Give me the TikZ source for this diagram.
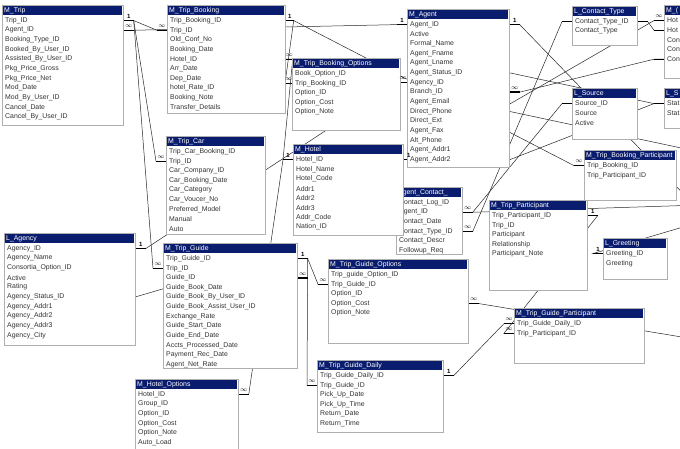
\documentclass[tikz,border=0pt]{standalone}
\usepackage{fontspec}
\setmainfont{Liberation Sans}
\usetikzlibrary{calc}
\pgfdeclarelayer{links}
\pgfsetlayers{links,main}
\definecolor{hdr}{RGB}{10,28,110}
\definecolor{rim}{RGB}{175,175,175}

\newcommand\tbl[7]{%
  \pgfmathsetmacro\hw{#4-2}
  \node[tblbox,minimum width=#4pt,minimum height=#5pt] (#1) at (#2,#3) {};
  \node[tblhead,minimum width=\hw pt] (#1-h) at ($(#1.north west)+(1,1)$) {};
  \node[tbltitle] (#1-t) at ($(#1-h.west)+(1,0)$) {#6};
  \foreach \r [count=\i] in {#7}
    \node[tblrow] (#1-\i) at ($(#1-h.south west)+(2,5.2+9.65*\i-9.65)$) {\r};
}
\newcounter{lk}
\newcommand\link[6]{%
  \stepcounter{lk}
  \begin{pgfonlayer}{links}
    \draw[lnk] #1 -- ++(#2,0) coordinate (l\thelk a) -- ($#3+(#4,0)$) coordinate (l\thelk b) -- #3;
    \draw[stub] #1 -- (l\thelk a) #3 -- (l\thelk b);
  \end{pgfonlayer}
  \node[mk] (l\thelk s) at ($#1!.5!(l\thelk a)+(0,-4)$) {#5};
  \node[mk] (l\thelk e) at ($#3!.5!(l\thelk b)+(0,-4)$) {#6};
}
% one end only, the other runs off or hides behind a table
\newcommand\loose[4]{%
  \stepcounter{lk}
  \begin{pgfonlayer}{links}
    \draw[lnk] #1 -- ++(#2,0) coordinate (l\thelk a) -- #3;
    \draw[stub] #1 -- (l\thelk a);
  \end{pgfonlayer}
  \node[mk] (l\thelk s) at ($#1!.5!(l\thelk a)+(0,-4)$) {#4};
}

\begin{document}
\begin{tikzpicture}[
  x=1pt,y=-1pt,
  tblbox/.style={draw=rim,fill=white,line width=.7pt,anchor=north west,inner sep=0pt},
  tblhead/.style={fill=hdr,anchor=north west,minimum height=9pt,inner sep=0pt},
  tbltitle/.style={text=white,anchor=west,inner sep=0pt,font=\fontsize{6.9}{8}\selectfont},
  tblrow/.style={anchor=west,inner sep=0pt,text=black!80,font=\fontsize{6.9}{8}\selectfont},
  lnk/.style={draw=black!85,line width=.5pt},
  stub/.style={draw=black,line width=1.4pt},
  mk/.style={inner sep=0pt,font=\bfseries\fontsize{6}{7}\selectfont}
]
\useasboundingbox (0,0) rectangle (680,448);
\clip (0,0) rectangle (680,448);

\tbl{trip}{2}{5}{121}{120}{M\_Trip}{Trip\_ID,Agent\_ID,Booking\_Type\_ID,Booked\_By\_User\_ID,Assisted\_By\_User\_ID,Pkg\_Price\_Gross,Pkg\_Price\_Net,Mod\_Date,Mod\_By\_User\_ID,Cancel\_Date,Cancel\_By\_User\_ID}
\tbl{bkg}{167}{5}{118}{108}{M\_Trip\_Booking}{Trip\_Booking\_ID,Trip\_ID,Old\_Conf\_No,Booking\_Date,Hotel\_ID,Arr\_Date,Dep\_Date,hotel\_Rate\_ID,Booking\_Note,Transfer\_Details}
\tbl{bopt}{292}{58}{108}{72}{M\_Trip\_Booking\_Options}{Book\_Option\_ID,Trip\_Booking\_ID,Option\_ID,Option\_Cost,Option\_Note}
\tbl{agent}{407}{9}{102}{158}{M\_Agent}{Agent\_ID,Active,Formal\_Name,Agent\_Fname,Agent\_Lname,Agent\_Status\_ID,Agency\_ID,Branch\_ID,Agent\_Email,Direct\_Phone,Direct\_Ext,Agent\_Fax,Alt\_Phone,Agent\_Addr1,Agent\_Addr2}
\tbl{ctype}{572}{6}{65}{39}{L\_Contact\_Type}{Contact\_Type\_ID,Contact\_Type}
\tbl{hcont}{664}{5}{30}{73}{M\_(}{Hot,Hot,Con,Con,Con}
\tbl{src}{572}{88}{65}{51}{L\_Source}{Source\_ID,Source,Active}
\tbl{stat}{664}{88}{30}{40}{L\_S}{Stat,Stat}
\tbl{bpart}{584}{150}{92}{50}{M\_Trip\_Booking\_Participant}{Trip\_Booking\_ID,Trip\_Participant\_ID}
\tbl{car}{166}{136}{99}{98}{M\_Trip\_Car}{Trip\_Car\_Booking\_ID,Trip\_ID,Car\_Company\_ID,Car\_Booking\_Date,Car\_Category,Car\_Voucer\_No,Preferred\_Model,Manual,Auto}
\tbl{acont}{396}{187}{66}{67}{Agent\_Contact\_}{Contact\_Log\_ID,Agent\_ID,Contact\_Date,Contact\_Type\_ID,Contact\_Descr,Followup\_Req}
\tbl{hotel}{293}{144}{110}{91}{M\_Hotel}{Hotel\_ID,Hotel\_Name,Hotel\_Code,Addr1,Addr2,Addr3,Addr\_Code,Nation\_ID}
\tbl{agency}{4}{233}{131}{112}{L\_Agency}{Agency\_ID,Agency\_Name,Consortia\_Option\_ID,Active,Rating,Agency\_Status\_ID,Agency\_Addr1,Agency\_Addr2,Agency\_Addr3,Agency\_City}
\tbl{guide}{163}{243}{134}{125}{M\_Trip\_Guide}{Trip\_Guide\_ID,Trip\_ID,Guide\_ID,Guide\_Book\_Date,Guide\_Book\_By\_User\_ID,Guide\_Book\_Assist\_User\_ID,Exchange\_Rate,Guide\_Start\_Date,Guide\_End\_Date,Accts\_Processed\_Date,Payment\_Rec\_Date,Agent\_Net\_Rate}
\tbl{gopt}{328}{259}{140}{84}{M\_Trip\_Guide\_Options}{Trip\_guide\_Option\_ID,Trip\_Guide\_ID,Option\_ID,Option\_Cost,Option\_Note}
\tbl{tpart}{489}{200}{98}{90}{M\_Trip\_Participant}{Trip\_Participant\_ID,Trip\_ID,Participant,Relationship,Participant\_Note}
\tbl{greet}{603}{238}{64}{41}{L\_Greeting}{Greeting\_ID,Greeting}
\tbl{gpart}{514}{308}{130}{55}{M\_Trip\_Guide\_Participant}{Trip\_Guide\_Daily\_ID,Trip\_Participant\_ID}
\tbl{daily}{317}{360}{126}{72}{M\_Trip\_Guide\_Daily}{Trip\_Guide\_Daily\_ID,Trip\_Guide\_ID,Pick\_Up\_Date,Pick\_Up\_Time,Return\_Date,Return\_Time}
\tbl{hopt}{135}{379}{103}{75}{M\_Hotel\_Options}{Hotel\_ID,Group\_ID,Option\_ID,Option\_Cost,Option\_Note,Auto\_Load}

\coordinate (offA) at (700,211);
\coordinate (offB) at (700,205);
\coordinate (offC) at (700,222);
\coordinate (offD) at (700,340);
\coordinate (offE) at (700,152);
\coordinate (inGuide) at (200,278);

\link{(trip-1 -| trip.east)}{10}{(bkg-2 -| bkg.west)}{-10}{1}{$\infty$}
\link{(trip-2 -| trip.east)}{10}{(agent-1 -| agent.west)}{-10}{$\infty$}{1}
\link{(trip-1 -| trip.east)}{10}{(car-2 -| car.west)}{-10}{}{$\infty$}
\link{(trip-1 -| trip.east)}{10}{(guide-2 -| guide.west)}{-10}{}{$\infty$}
\link{(bkg-1 -| bkg.east)}{8}{(bpart-1 -| bpart.west)}{-10}{1}{$\infty$}
\link{(bkg-1 -| bkg.east)}{8}{(bopt-2 -| bopt.west)}{-7}{}{$\infty$}
\link{(bkg-5 -| bkg.east)}{7}{(hotel-1 -| hotel.west)}{-10}{$\infty$}{1}
\link{(agency-1 -| agency.east)}{10}{(agent-7 -| agent.west)}{-8}{1}{$\infty$}
\link{(guide-1 -| guide.east)}{10}{(gopt-2 -| gopt.west)}{-10}{1}{$\infty$}
\link{(guide-1 -| guide.east)}{10}{(daily-2 -| daily.west)}{-10}{}{$\infty$}
\link{(hopt-1 -| hopt.east)}{10}{(hotel-1 -| hotel.west)}{-10}{$\infty$}{}
\link{(daily-1 -| daily.east)}{10}{(gpart-1 -| gpart.west)}{-10}{1}{$\infty$}
\link{(tpart-1 -| tpart.east)}{10}{(gpart-2 -| gpart.west)}{-10}{1}{$\infty$}
\link{(hotel-1 -| hotel.east)}{10}{(hcont-1 -| hcont.west)}{-10}{1}{$\infty$}
\link{(ctype-1 -| ctype.east)}{10}{(hcont-2 -| hcont.west)}{-10}{}{}
\link{(ctype-1 -| ctype.west)}{-10}{(acont-4 -| acont.east)}{10}{}{$\infty$}
\link{(src-1 -| src.west)}{-10}{(acont-2 -| acont.east)}{10}{}{$\infty$}
\link{(agent-8 -| agent.east)}{10}{(hcont-5 -| hcont.west)}{-10}{$\infty$}{}
\link{(agent-15 -| agent.east)}{0}{(stat-1 -| stat.west)}{-10}{}{}
\link{(agent-6 -| agent.east)}{0}{(stat-1 -| stat.west)}{-10}{}{}
\loose{(agent-1 -| agent.east)}{10}{(offA)}{1}
\loose{(agent-10 -| agent.east)}{0}{(offE)}{}
\loose{(acont-2 -| acont.east)}{10}{(offB)}{}
\loose{(greet-1 -| greet.west)}{-10}{(offC)}{1}
\loose{(gopt-4 -| gopt.east)}{10}{(offD)}{$\infty$}
\loose{(guide-3 -| guide.east)}{10}{+(0,0)}{$\infty$}
\begin{pgfonlayer}{links}
  \draw[lnk] (agency-6 -| agency.east) -- (inGuide);
\end{pgfonlayer}
\end{tikzpicture}
\end{document}
